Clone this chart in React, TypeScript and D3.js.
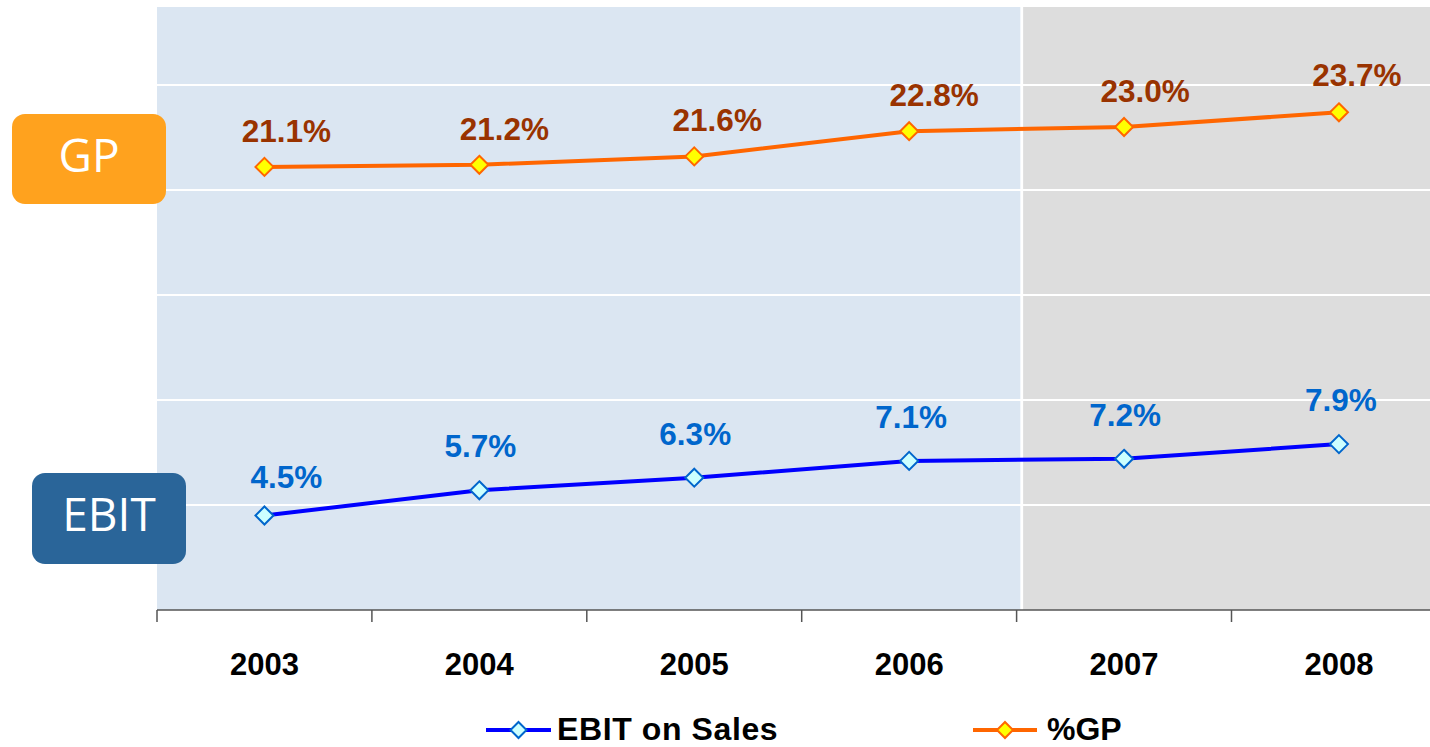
import React from "react";
import * as d3 from "d3";

const years = ["2003", "2004", "2005", "2006", "2007", "2008"];
const ebitValues = [4.5, 5.7, 6.3, 7.1, 7.2, 7.9];
const gpValues = [21.1, 21.2, 21.6, 22.8, 23.0, 23.7];
const gridValues = [5, 10, 15, 20, 25];
const forecastYears = ["2007", "2008"];
const legendItems = ["EBIT on Sales", "%GP"];

// label placement (layout only)
const ebitLabelDx = [22, 1, 1, 2, 1, 2];
const ebitLabelDy = [-28, -33, -33, -33, -33, -33];
const gpLabelDx = [22, 25, 23, 25, 21, 18];
const gpLabelDy = [-25, -25, -25, -25, -25, -26];

const W = 1430;
const H = 747;
const plotLeft = 157;
const plotRight = 1430;
const plotTop = 7;

export default function App() {
  const x = d3.scaleBand<string>().domain(years).range([plotLeft, plotLeft + 6 * 214.9]).padding(0);
  const y = d3.scaleLinear().domain([0, 25]).range([610, 85]);
  const cx = (yr: string) => (x(yr) as number) + x.bandwidth() / 2;
  const line = d3
    .line<number>()
    .x((_, i) => cx(years[i]))
    .y((v) => y(v));

  const split = (x(forecastYears[0]) as number) + 4;
  const diamond = (px: number, py: number, r = 9) =>
    `M${px},${py - r}L${px + r},${py}L${px},${py + r}L${px - r},${py}Z`;

  const series = [
    { name: legendItems[0], values: ebitValues, dx: ebitLabelDx, dy: ebitLabelDy, line: "#0000FF", fill: "#CCFFFF", stroke: "#0066CC", label: "#0066CC" },
    { name: legendItems[1], values: gpValues, dx: gpLabelDx, dy: gpLabelDy, line: "#FF6600", fill: "#FFFF00", stroke: "#FF6600", label: "#993300" },
  ];

  const legendPos = [
    { x0: 486, x1: 551, tx: 557, ls: 0.6 },
    { x0: 973, x1: 1037, tx: 1047, ls: 0 },
  ];

  const font = "'Liberation Sans', Arial, sans-serif";
  const legendY = 730;

  return (
    <svg width={W} height={H} style={{ position: "absolute", left: 0, top: 0, background: "#fff" }}>
      <rect x={plotLeft} y={plotTop} width={split - plotLeft} height={y(0) - plotTop} fill="#DBE6F2" />
      <rect x={split + 2.5} y={plotTop} width={plotRight - split - 2.5} height={y(0) - plotTop} fill="#DDDDDD" />
      {gridValues.map((g) => (
        <line key={g} x1={plotLeft} x2={plotRight} y1={y(g)} y2={y(g)} stroke="#fff" strokeWidth={2} />
      ))}
      <line x1={split + 1.2} x2={split + 1.2} y1={plotTop} y2={y(0)} stroke="#fff" strokeWidth={2.5} />
      {/* axis */}
      <line x1={plotLeft} x2={plotRight} y1={y(0)} y2={y(0)} stroke="#555" strokeWidth={1.5} />
      {years.map((yr) => (
        <line key={yr} x1={x(yr)} x2={x(yr)} y1={y(0)} y2={y(0) + 12} stroke="#555" strokeWidth={1.5} />
      ))}
      {years.map((yr) => (
        <text key={yr} x={cx(yr)} y={675} textAnchor="middle" fontFamily={font} fontWeight="bold" fontSize={31} fill="#000">
          {yr}
        </text>
      ))}
      {series.map((s) => (
        <g key={s.name}>
          <path d={line(s.values) as string} fill="none" stroke={s.line} strokeWidth={4} />
          {s.values.map((v, i) => (
            <path key={i} d={diamond(cx(years[i]), y(v))} fill={s.fill} stroke={s.stroke} strokeWidth={2} />
          ))}
          {s.values.map((v, i) => (
            <text
              key={"t" + i}
              x={cx(years[i]) + s.dx[i]}
              y={y(v) + s.dy[i]}
              textAnchor="middle"
              fontFamily={font}
              fontWeight="bold"
              fontSize={31.5}
              fill={s.label}
            >
              {v.toFixed(1) + "%"}
            </text>
          ))}
        </g>
      ))}
      {/* side labels */}
      <rect x={12} y={114} width={154} height={90} rx={13} fill="#FFA21E" />
      <text x={89} y={171.5} textAnchor="middle" fontFamily="'Open Sans', sans-serif" fontSize={46} fill="#fff">
        GP
      </text>
      <rect x={32} y={473} width={154} height={91} rx={13} fill="#2A6599" />
      <text x={109} y={531} textAnchor="middle" fontFamily="'Open Sans', sans-serif" fontSize={46} fill="#fff">
        EBIT
      </text>
      {/* legend */}
      {series.map((s, i) => {
        const p = legendPos[i];
        return (
          <g key={"lg" + i}>
            <line x1={p.x0} x2={p.x1} y1={legendY} y2={legendY} stroke={s.line} strokeWidth={4} />
            <path d={diamond((p.x0 + p.x1) / 2, legendY, 8)} fill={s.fill} stroke={s.stroke} strokeWidth={2} />
            <text x={p.tx} y={legendY + 10} fontFamily={font} fontWeight="bold" fontSize={32} letterSpacing={p.ls} fill="#000">
              {s.name}
            </text>
          </g>
        );
      })}
    </svg>
  );
}
